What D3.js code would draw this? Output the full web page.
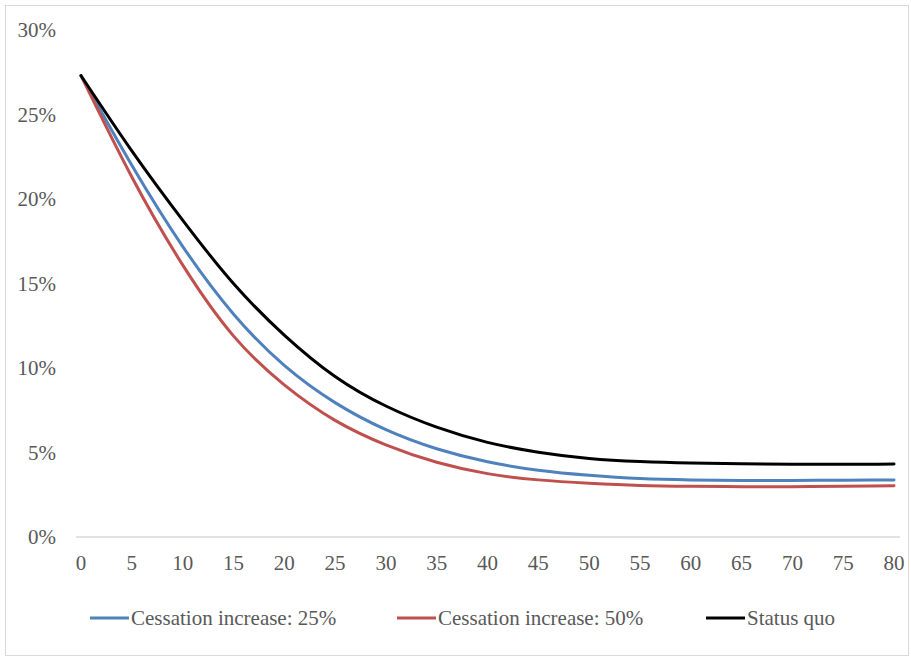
<!DOCTYPE html>
<html>
<head>
<meta charset="utf-8">
<script src="https://cdn.jsdelivr.net/npm/d3@7"></script>
<style>
  html, body { margin: 0; padding: 0; background: #fff; }
  svg { display: block; }
  text { font-family: "Liberation Serif", "Times New Roman", serif; fill: #595959; }
</style>
</head>
<body>
<svg id="chart" width="911" height="658"></svg>
<script>
// ---- Data ----
const years = [0, 5, 10, 15, 20, 25, 30, 35, 40, 45, 50, 55, 60, 65, 70, 75, 80];
const cessation25 = [27.3, 22.0, 17.2, 13.2, 10.15, 7.95, 6.35, 5.22, 4.45, 3.95, 3.65, 3.46, 3.38, 3.35, 3.35, 3.36, 3.38];
const cessation50 = [27.3, 21.3, 16.1, 11.9, 9.0, 6.9, 5.45, 4.42, 3.75, 3.38, 3.18, 3.05, 3.0, 2.98, 2.98, 3.0, 3.03];
const statusQuo   = [27.3, 22.85, 18.75, 15.0, 11.95, 9.5, 7.75, 6.5, 5.6, 5.02, 4.65, 4.47, 4.38, 4.33, 4.31, 4.3, 4.32];
const seriesNames = ["Cessation increase: 25%", "Cessation increase: 50%", "Status quo"];
const seriesColors = ["#4F81BD", "#C0504D", "#000000"];
const xTicks = [0, 5, 10, 15, 20, 25, 30, 35, 40, 45, 50, 55, 60, 65, 70, 75, 80];
const yTicks = [0, 5, 10, 15, 20, 25, 30];

const svg = d3.select("#chart");

// chart border
svg.append("rect")
  .attr("x", 5.5).attr("y", 5.5)
  .attr("width", 903).attr("height", 650)
  .attr("fill", "#fff").attr("stroke", "#d9d9d9").attr("stroke-width", 1);

const x = d3.scaleLinear().domain([0, 80]).range([81, 894]);
const y = d3.scaleLinear().domain([0, 30]).range([537, 30]);

// x axis line
svg.append("line")
  .attr("x1", 76).attr("x2", 900)
  .attr("y1", y(0)).attr("y2", y(0))
  .attr("stroke", "#d9d9d9").attr("stroke-width", 1.5);

// y tick labels
svg.append("g").selectAll("text")
  .data(yTicks).join("text")
  .attr("x", 56)
  .attr("y", d => y(d) + 7)
  .attr("text-anchor", "end")
  .attr("font-size", 21)
  .text(d => d + "%");

// x tick labels
svg.append("g").selectAll("text")
  .data(xTicks).join("text")
  .attr("x", d => x(d))
  .attr("y", 570)
  .attr("text-anchor", "middle")
  .attr("font-size", 21)
  .text(d => d);

// lines
const seriesData = [cessation25, cessation50, statusQuo];
const line = d3.line()
  .x((d, i) => x(years[i]))
  .y(d => y(d))
  .curve(d3.curveNatural);

svg.append("g").selectAll("path")
  .data(seriesData).join("path")
  .attr("d", d => line(d))
  .attr("fill", "none")
  .attr("stroke", (d, i) => seriesColors[i])
  .attr("stroke-width", 3)
  .attr("stroke-linejoin", "round")
  .attr("stroke-linecap", "round");

// legend
const legendX = [90, 397, 706];
const lg = svg.append("g").selectAll("g")
  .data(seriesNames).join("g")
  .attr("transform", (d, i) => `translate(${legendX[i]},618)`);
lg.append("line")
  .attr("x1", 0).attr("x2", 39)
  .attr("y1", 0).attr("y2", 0)
  .attr("stroke", (d, i) => seriesColors[i])
  .attr("stroke-width", 3);
lg.append("text")
  .attr("x", 41)
  .attr("y", 7)
  .attr("font-size", 21)
  .text(d => d);
</script>
</body>
</html>
